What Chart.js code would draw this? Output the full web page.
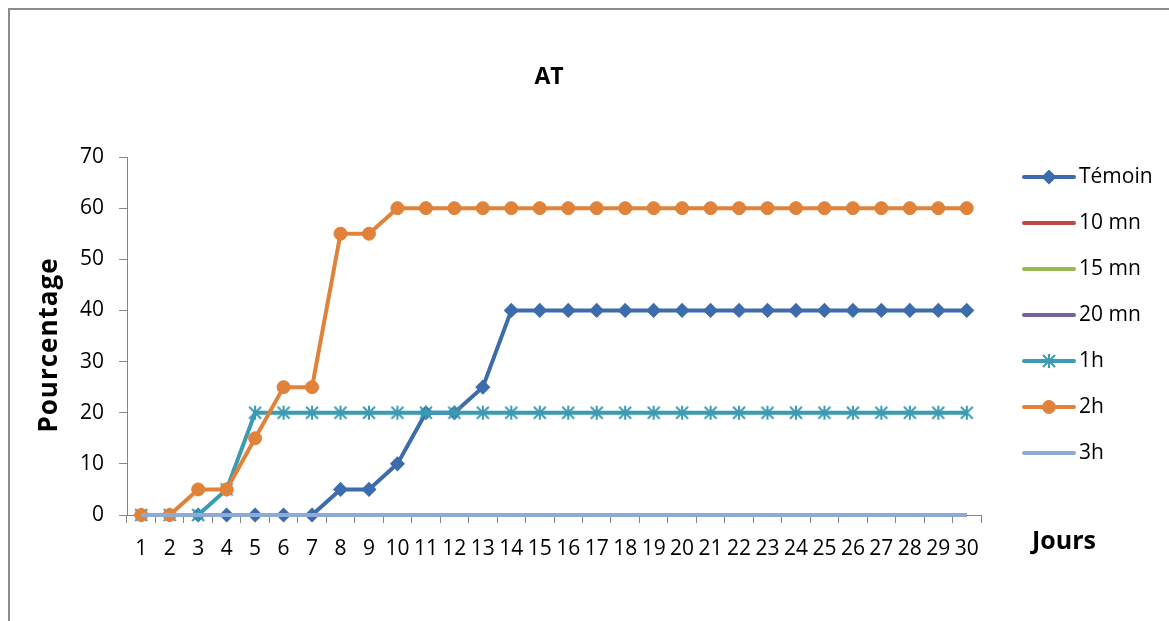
<!DOCTYPE html>
<html lang="fr">
<head>
<meta charset="utf-8">
<title>AT</title>
<script src="https://cdn.jsdelivr.net/npm/chart.js@4/dist/chart.umd.min.js"></script>
<style>
  html, body { margin: 0; padding: 0; background: #fff; overflow: hidden; }
  #frame { position: absolute; left: 8px; top: 8px; width: 1300px; height: 800px;
           border-left: 2px solid #8c8c8c; border-top: 2px solid #8c8c8c; }
  #wrap { position: absolute; left: 0; top: 0; width: 1169px; height: 621px; }
</style>
</head>
<body>
<div id="frame"></div>
<div id="wrap"><canvas id="chart" width="1169" height="621"></canvas></div>
<script>
// Days of observation
const jours = [1,2,3,4,5,6,7,8,9,10,11,12,13,14,15,16,17,18,19,20,21,22,23,24,25,26,27,28,29,30];

// Percentage per treatment, one value per day
const temoin = [0,0,0,0,0,0,0,5,5,10,20,20,25,40,40,40,40,40,40,40,40,40,40,40,40,40,40,40,40,40];
const mn10   = [0,0,0,0,0,0,0,0,0,0,0,0,0,0,0,0,0,0,0,0,0,0,0,0,0,0,0,0,0,0];
const mn15   = [0,0,0,0,0,0,0,0,0,0,0,0,0,0,0,0,0,0,0,0,0,0,0,0,0,0,0,0,0,0];
const mn20   = [0,0,0,0,0,0,0,0,0,0,0,0,0,0,0,0,0,0,0,0,0,0,0,0,0,0,0,0,0,0];
const h1     = [0,0,0,5,20,20,20,20,20,20,20,20,20,20,20,20,20,20,20,20,20,20,20,20,20,20,20,20,20,20];
const h2     = [0,0,5,5,15,25,25,55,55,60,60,60,60,60,60,60,60,60,60,60,60,60,60,60,60,60,60,60,60,60];
const h3     = [0,0,0,0,0,0,0,0,0,0,0,0,0,0,0,0,0,0,0,0,0,0,0,0,0,0,0,0,0,0];

const yTicks = [0,10,20,30,40,50,60,70];

const FONT = "'Open Sans', 'Liberation Sans', sans-serif";

// Asterisk marker: two diagonals crossed by a vertical stroke
function asteriskMarker(color) {
  const c = document.createElement('canvas');
  c.width = 16; c.height = 16;
  const g = c.getContext('2d');
  g.strokeStyle = color;
  g.lineWidth = 2;
  g.beginPath();
  g.moveTo(2, 2);  g.lineTo(14, 14);
  g.moveTo(14, 2); g.lineTo(2, 14);
  g.moveTo(8, 1);  g.lineTo(8, 15);
  g.stroke();
  return c;
}

const series = [
  { label: 'Témoin', data: temoin, color: '#3d6cac', style: 'rectRot', radius: 6.5, bw: 1.5 },
  { label: '10 mn',  data: mn10,   color: '#bc4a47', style: false },
  { label: '15 mn',  data: mn15,   color: '#97b853', style: false },
  { label: '20 mn',  data: mn20,   color: '#7a5e9e', style: false },
  { label: '1h',     data: h1,     color: '#3a9bb2', style: asteriskMarker('#3a9bb2'), radius: 7, bw: 0 },
  { label: '2h',     data: h2,     color: '#e0823a', style: 'circle', radius: 6.5, bw: 1 },
  { label: '3h',     data: h3,     color: '#8eaad7', style: false }
];

const datasets = series.map((s, i) => ({
  label: s.label,
  data: s.data,
  borderColor: s.color,
  backgroundColor: s.color,
  borderWidth: 4,
  tension: 0,
  clip: false,
  order: series.length - i,          // later series are painted above earlier ones
  pointStyle: s.style || 'circle',
  pointRadius: s.style ? s.radius : 0,
  pointBorderWidth: s.style ? s.bw : 0,
  pointBackgroundColor: s.color,
  pointBorderColor: s.color
}));

// Title, axis captions and the legend with line + marker samples
const decorations = {
  id: 'decorations',
  afterDraw(chart) {
    const ctx = chart.ctx;
    ctx.save();
    ctx.fillStyle = '#000';
    ctx.textBaseline = 'middle';

    ctx.font = `bold 23px ${FONT}`;
    ctx.textAlign = 'center';
    ctx.fillText('AT', 549, 77);

    ctx.font = `bold 25px ${FONT}`;
    ctx.textAlign = 'left';
    ctx.fillText('Jours', 1032, 542);

    ctx.save();
    ctx.translate(50, 345);
    ctx.rotate(-Math.PI / 2);
    ctx.font = `bold 26px ${FONT}`;
    ctx.letterSpacing = '1px';
    ctx.textAlign = 'center';
    ctx.fillText('Pourcentage', 0, 0);
    ctx.restore();

    const x0 = 1024, x1 = 1074, top = 177, step = 46;
    series.forEach((s, i) => {
      const y = top + i * step;
      ctx.strokeStyle = s.color;
      ctx.lineWidth = 4;
      ctx.lineCap = 'round';
      ctx.beginPath();
      ctx.moveTo(x0, y);
      ctx.lineTo(x1, y);
      ctx.stroke();
      if (s.style) {
        ctx.fillStyle = s.color;
        ctx.strokeStyle = s.color;
        ctx.lineWidth = s.bw || 1;
        Chart.helpers.drawPoint(ctx, {
          pointStyle: s.style, radius: s.radius, borderWidth: s.bw, rotation: 0
        }, (x0 + x1) / 2, y);
      }
      ctx.fillStyle = '#000';
      ctx.font = `21px ${FONT}`;
      ctx.textAlign = 'left';
      ctx.fillText(s.label, 1079, y);
    });
    ctx.restore();
  }
};

new Chart(document.getElementById('chart'), {
  type: 'line',
  data: { labels: jours, datasets },
  options: {
    responsive: false,
    animation: false,
    events: [],
    layout: { padding: { left: 0, top: 157, right: 1169 - 981, bottom: 0 } },
    plugins: {
      legend: { display: false },
      title: { display: false },
      tooltip: { enabled: false }
    },
    scales: {
      x: {
        type: 'category',
        offset: true,
        afterFit(scale) { scale.height = 621 - 515; },
        grid: {
          offset: true,
          drawOnChartArea: false,
          drawTicks: true,
          tickLength: 8,
          color: '#868686',
          lineWidth: 1
        },
        border: { color: '#868686', width: 1 },
        ticks: {
          autoSkip: false,
          maxRotation: 0,
          minRotation: 0,
          padding: 13,
          color: '#000',
          font: { family: FONT, size: 21 }
        }
      },
      y: {
        min: 0,
        max: 70,
        afterFit(scale) { scale.width = 127; },
        afterBuildTicks(scale) { scale.ticks = yTicks.map(v => ({ value: v })); },
        grid: {
          drawOnChartArea: false,
          drawTicks: true,
          tickLength: 8,
          color: '#868686',
          lineWidth: 1
        },
        border: { color: '#868686', width: 1 },
        ticks: {
          padding: 15,
          color: '#000',
          font: { family: FONT, size: 21 }
        }
      }
    }
  },
  plugins: [decorations]
});
</script>
</body>
</html>
